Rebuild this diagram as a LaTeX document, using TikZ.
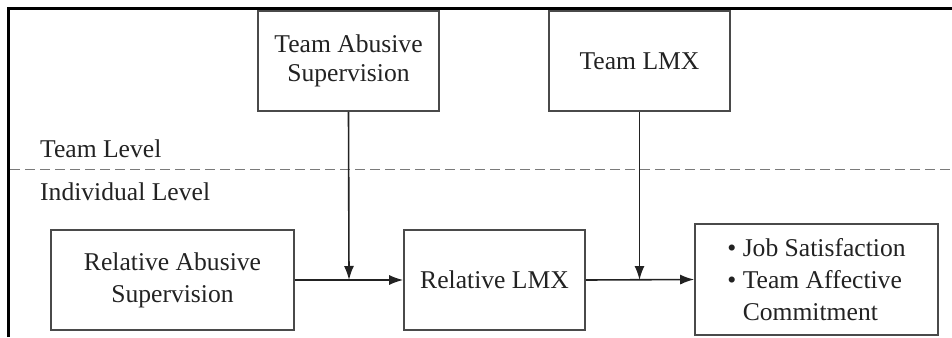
\documentclass[tikz,border=0pt]{standalone}
\usepackage{fontspec}
\setmainfont{Liberation Serif}
\usetikzlibrary{arrows.meta}
\definecolor{txt}{HTML}{222222}
\definecolor{edge}{HTML}{4A4A4A}
\definecolor{dashc}{HTML}{7A7A7A}
\begin{document}
\begin{tikzpicture}[x=1pt,y=-1pt,
  box/.style={draw=edge,line width=1.6pt,inner sep=0pt,align=center,text=txt,
    font=\fontsize{25.6}{31}\selectfont},
  lvl/.style={inner sep=0pt,text=txt,font=\fontsize{25.6}{31}\selectfont},
  conn/.style={draw=txt,line width=1.6pt,-{Latex[length=14pt,width=10pt]}}
]
\useasboundingbox (0,0) rectangle (952,337);
% frame
\draw[line width=3pt,black] (8.5,337) -- (8.5,9) -- (952,9);
% level separator
\draw[dashc,line width=1.6pt,dash pattern=on 10pt off 5pt] (10,169.5) -- (952,169.5);
\node[lvl,anchor=base west] (tl) at (40,157) {Team Level};
\node[lvl,anchor=base west] (il) at (40,200) {Individual Level};
% boxes
\node[box,minimum width=181pt,minimum height=100pt,font=\fontsize{25.6}{28.5}\selectfont] (tas) at (348.5,61) {Team Abusive\\Supervision};
\node[box,minimum width=181pt,minimum height=100pt] (tlmx) at (639.5,61) {Team LMX};
\node[box,minimum width=243pt,minimum height=100pt,font=\fontsize{25.6}{32}\selectfont] (ras) at (172.5,280) {Relative Abusive\\Supervision};
\node[box,minimum width=181pt,minimum height=100pt] (rlmx) at (494.5,280) {Relative LMX};
\node[box,minimum width=243pt,minimum height=111pt] (out) at (816.5,279.5) {};
\node[lvl,align=left,font=\fontsize{25.6}{32}\selectfont] (outt) at (out.center) {\textbullet\ Job Satisfaction\\\textbullet\ Team Affective\\\hphantom{\textbullet\ }Commitment};
% connectors
\coordinate (m1) at (349,280);
\coordinate (m2) at (639.5,280);
\draw[conn] (ras.east) -- (rlmx.west);
\draw[conn] (rlmx.east) -- (out.west);
\draw[conn] (tas.south) -- (m1);
\draw[conn] (tlmx.south) -- (m2);
\end{tikzpicture}
\end{document}
